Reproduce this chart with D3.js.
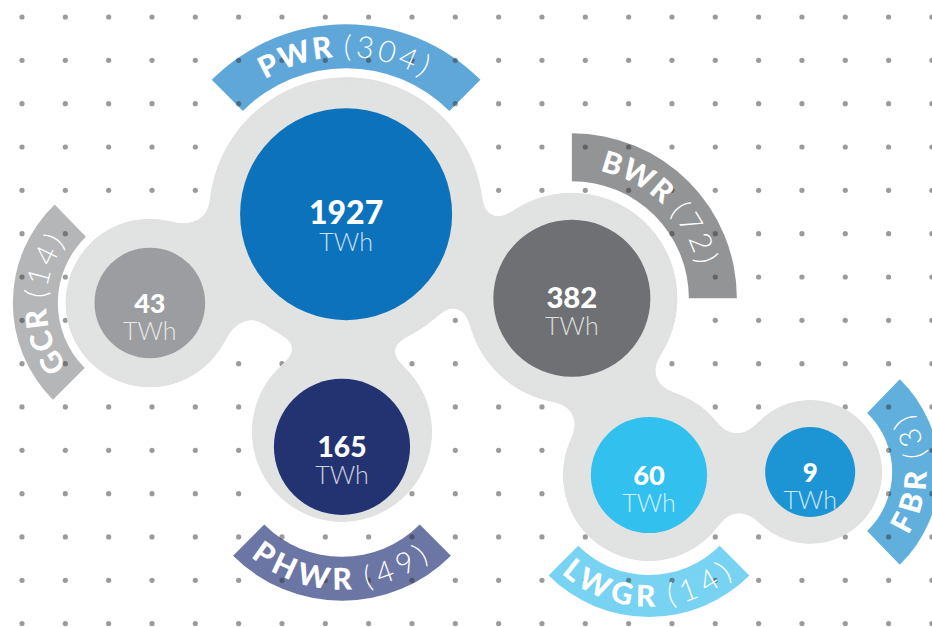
<!DOCTYPE html>
<html>
<head>
<meta charset="utf-8">
<script src="https://cdn.jsdelivr.net/npm/d3@7"></script>
<style>
  html, body { margin: 0; padding: 0; background: #fff; }
  svg { display: block; }
</style>
</head>
<body>
<div class="d3-container"></div>
<script>
// reactor types, number of reactors, net generation (TWh)
const names = ["PWR", "BWR", "PHWR", "GCR", "LWGR", "FBR"];
const units = [304, 72, 49, 14, 14, 3];
const output = [1927, 382, 165, 43, 60, 9];

const circleColors = ["#0d72bc", "#6e7073", "#233371", "#9b9da0", "#32c0ee", "#1d95d4"];
const bandColors = ["#5fa6d9", "#929496", "#6c76a4", "#b4b6b8", "#78d2f1", "#61afdd"];

// layout on the dotted grid (grid units)
const gridX = [7.48, 12.69, 7.385, 2.95, 14.47, 18.19];
const gridY = [4.55, 6.49, 9.92, 6.60, 10.57, 10.50];
const haloPad = [31, 27, 22, 29, 28, 27];
const haloShift = [0, 0, -15, 0, 0, 0];
// label band: start / end angle (deg, clockwise from top), inner/outer radius, text direction
const bandStart = [-45, 0, 135, 225, 135, 44];
const bandEnd = [45, 90, 225, 316, 225, 136];
const bandInner = [146, 117, 110, 92, 100, 82];
const bandOuter = [190, 165, 154, 137, 142, 129];
const bandCw = [true, true, false, true, false, false];

const links = [[0, 3, 110], [0, 2, 96], [0, 1, 96], [1, 4, 90], [4, 5, 78]];

const width = 932;
const height = 627;

const svg = d3.select(".d3-container")
  .append("svg")
  .attr("width", width)
  .attr("height", height)
  .attr("viewBox", [0, 0, width, height]);

const step = 43.33;
const x = d3.scaleLinear().domain([0, 1]).range([22, 22 + step]);
const y = d3.scaleLinear().domain([0, 1]).range([17, 17 + step]);

const r = d3.scalePow().exponent(0.25).domain([9, 1927]).range([45, 106]);
const fontScale = d3.scaleLinear().domain([45, 106]).range([26, 32]);

const nodes = names.map((n, i) => ({
  name: n, units: units[i], twh: output[i],
  cx: x(gridX[i]), cy: y(gridY[i]),
  r: r(output[i]),
  i
}));

const defs = svg.append("defs");
const goo = defs.append("filter")
  .attr("id", "goo")
  .attr("filterUnits", "userSpaceOnUse")
  .attr("x", 0).attr("y", 0).attr("width", width).attr("height", height)
  .attr("color-interpolation-filters", "sRGB");
goo.append("feGaussianBlur").attr("in", "SourceGraphic").attr("stdDeviation", 9).attr("result", "b");
goo.append("feColorMatrix").attr("in", "b").attr("type", "matrix")
  .attr("values", "1 0 0 0 0  0 1 0 0 0  0 0 1 0 0  0 0 0 30 -14");

// bands go under the dots, with a little transparency so the dots show through
const bandAlpha = 0.82;
function under(c) {
  const k = d3.rgb(c);
  const f = v => Math.max(0, Math.min(255, (v - 255 * (1 - bandAlpha)) / bandAlpha));
  return d3.rgb(f(k.r), f(k.g), f(k.b)).formatHex();
}

const rad = d => d * Math.PI / 180;

svg.append("g")
  .selectAll("path")
  .data(nodes)
  .join("path")
  .attr("transform", d => `translate(${d.cx},${d.cy})`)
  .attr("d", d => d3.arc()({
    innerRadius: bandInner[d.i], outerRadius: bandOuter[d.i],
    startAngle: rad(bandStart[d.i]), endAngle: rad(bandEnd[d.i])
  }))
  .attr("fill", d => under(bandColors[d.i]))
  .attr("fill-opacity", bandAlpha);

// dot grid
const dots = d3.cross(d3.range(0, 22), d3.range(0, 15));
svg.append("g")
  .attr("fill", "#2e2e2e")
  .attr("fill-opacity", 0.48)
  .selectAll("circle")
  .data(dots)
  .join("circle")
  .attr("cx", d => x(d[0]))
  .attr("cy", d => y(d[1]))
  .attr("r", 2.6);

// grey halos and the necks joining them
const grey = svg.append("g").attr("filter", "url(#goo)").attr("fill", "#e1e2e2");
grey.selectAll("circle")
  .data(nodes)
  .join("circle")
  .attr("cx", d => d.cx)
  .attr("cy", d => d.cy + haloShift[d.i])
  .attr("r", d => d.r + haloPad[d.i]);
grey.selectAll("line")
  .data(links)
  .join("line")
  .attr("x1", d => nodes[d[0]].cx)
  .attr("y1", d => nodes[d[0]].cy + haloShift[d[0]])
  .attr("x2", d => nodes[d[1]].cx)
  .attr("y2", d => nodes[d[1]].cy + haloShift[d[1]])
  .attr("stroke", "#e1e2e2")
  .attr("stroke-width", d => d[2]);

// value circles
const bubble = svg.append("g")
  .selectAll("g")
  .data(nodes)
  .join("g")
  .attr("transform", d => `translate(${d.cx},${d.cy})`);

bubble.append("circle")
  .attr("r", d => d.r)
  .attr("fill", d => circleColors[d.i]);

bubble.append("text")
  .attr("text-anchor", "middle")
  .attr("y", 10)
  .attr("fill", "#fff")
  .attr("font-family", "Lato, sans-serif")
  .attr("font-weight", 900)
  .attr("font-size", d => fontScale(d.r))
  .text(d => d.twh);

bubble.append("text")
  .attr("text-anchor", "middle")
  .attr("y", 37)
  .attr("fill", "#fff")
  .attr("fill-opacity", 0.78)
  .attr("font-family", "Lato, sans-serif")
  .attr("font-weight", 300)
  .attr("font-size", 25)
  .text("TWh");

// curved labels
function arcPath(d) {
  const rm = (bandInner[d.i] + bandOuter[d.i]) / 2;
  const p = a => [d.cx + rm * Math.sin(rad(a)), d.cy - rm * Math.cos(rad(a))];
  const a0 = bandStart[d.i], a1 = bandEnd[d.i];
  if (bandCw[d.i]) {
    const s = p(a0), e = p(a1);
    return `M${s[0]},${s[1]} A${rm},${rm} 0 0 1 ${e[0]},${e[1]}`;
  }
  const s = p(a1), e = p(a0);
  return `M${s[0]},${s[1]} A${rm},${rm} 0 0 0 ${e[0]},${e[1]}`;
}

defs.selectAll("path")
  .data(nodes)
  .join("path")
  .attr("id", d => "lab" + d.i)
  .attr("d", arcPath);

const label = svg.append("g")
  .selectAll("text")
  .data(nodes)
  .join("text")
  .attr("fill", "#fff")
  .attr("font-family", "Lato, sans-serif")
  .attr("font-size", 30)
  .attr("dy", "0.36em");

const tp = label.append("textPath")
  .attr("href", d => "#lab" + d.i)
  .attr("startOffset", "50%")
  .attr("text-anchor", "middle");

tp.append("tspan")
  .attr("font-weight", 900)
  .attr("letter-spacing", 3)
  .text(d => d.name);

tp.append("tspan")
  .attr("font-weight", 300)
  .attr("font-style", "normal")
  .attr("letter-spacing", 5)
  .attr("dx", 9)
  .text(d => `(${d.units})`);
</script>
</body>
</html>
